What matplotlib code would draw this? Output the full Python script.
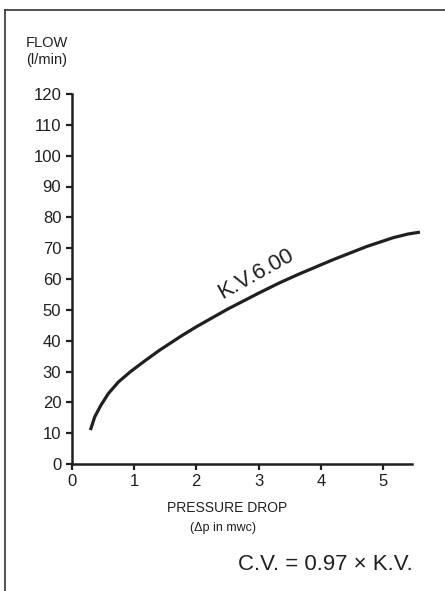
import numpy as np
import matplotlib
matplotlib.use("Agg")
import matplotlib.pyplot as plt
from matplotlib.lines import Line2D

plt.rcParams['font.family'] = ['Liberation Sans', 'DejaVu Sans']

# curve: pressure drop (mwc) vs flow (l/min)
dp   = [0.30, 0.37, 0.47, 0.59, 0.75, 0.94, 1.15, 1.41, 1.75, 2.00,
        2.50, 3.00, 3.34, 3.66, 4.20, 4.73, 5.16, 5.40, 5.59]
flow = [11.0, 15.3, 19.1, 22.9, 26.6, 29.9, 33.1, 36.9, 41.4, 44.5,
        50.2, 55.4, 58.8, 61.7, 66.3, 70.5, 73.4, 74.6, 75.2]

xticks = [0, 1, 2, 3, 4, 5]
yticks = list(range(0, 121, 10))
curve_label = "K.V.6.00"
ink = "#231f20"

W, H = 445, 591
fig = plt.figure(figsize=(W/100, H/100), dpi=100)
ax = fig.add_axes([71.7/W, 1-464/H, (5.7*62.3)/W, (464-94)/H])

ax.plot(dp, flow, color=ink, lw=2.3, solid_capstyle='butt',
        solid_joinstyle='round', clip_on=False)
ax.set_xlim(0, 5.7)
ax.set_ylim(0, 120)
ax.set_xticks(xticks)
ax.set_yticks(yticks)
for s in ['top', 'right']:
    ax.spines[s].set_visible(False)
ax.spines['left'].set_bounds(0, 120)
ax.spines['bottom'].set_bounds(0, 5.47)
for s in ['left', 'bottom']:
    ax.spines[s].set_linewidth(1.8)
    ax.spines[s].set_color(ink)
ax.tick_params(axis='both', direction='out', length=4.5, width=1.6,
               color=ink, labelsize=12, labelcolor=ink)
ax.tick_params(axis='y', pad=3)
ax.tick_params(axis='x', pad=2.5)

ax.text(2.96, 61.5, curve_label, rotation=29, rotation_mode='anchor',
        ha='center', va='center', fontsize=16, color=ink)

fig.text(47/W, 1-43/H, "FLOW", ha='center', va='center', fontsize=10.5, color=ink)
fig.text(47/W, 1-60/H, "(l/min)", ha='center', va='center', fontsize=10.5, color=ink)
fig.text(227/W, 1-508/H, "PRESSURE DROP", ha='center', va='center', fontsize=10, color=ink)
fig.text(223/W, 1-528/H, "(\u0394p in mwc)", ha='center', va='center', fontsize=9, color=ink)
fig.text(413/W, 1-565/H, "C.V. = 0.97 \u00d7 K.V.", ha='right', va='center',
         fontsize=16, color=ink)

# frame around the figure (left and top edges visible)
fig.add_artist(Line2D([5/W, 5/W], [0, 1-10/H], color='#333333', lw=1.2))
fig.add_artist(Line2D([5/W, 1], [1-10/H, 1-10/H], color='#333333', lw=1.2))

fig.savefig("out.png", dpi=100)
